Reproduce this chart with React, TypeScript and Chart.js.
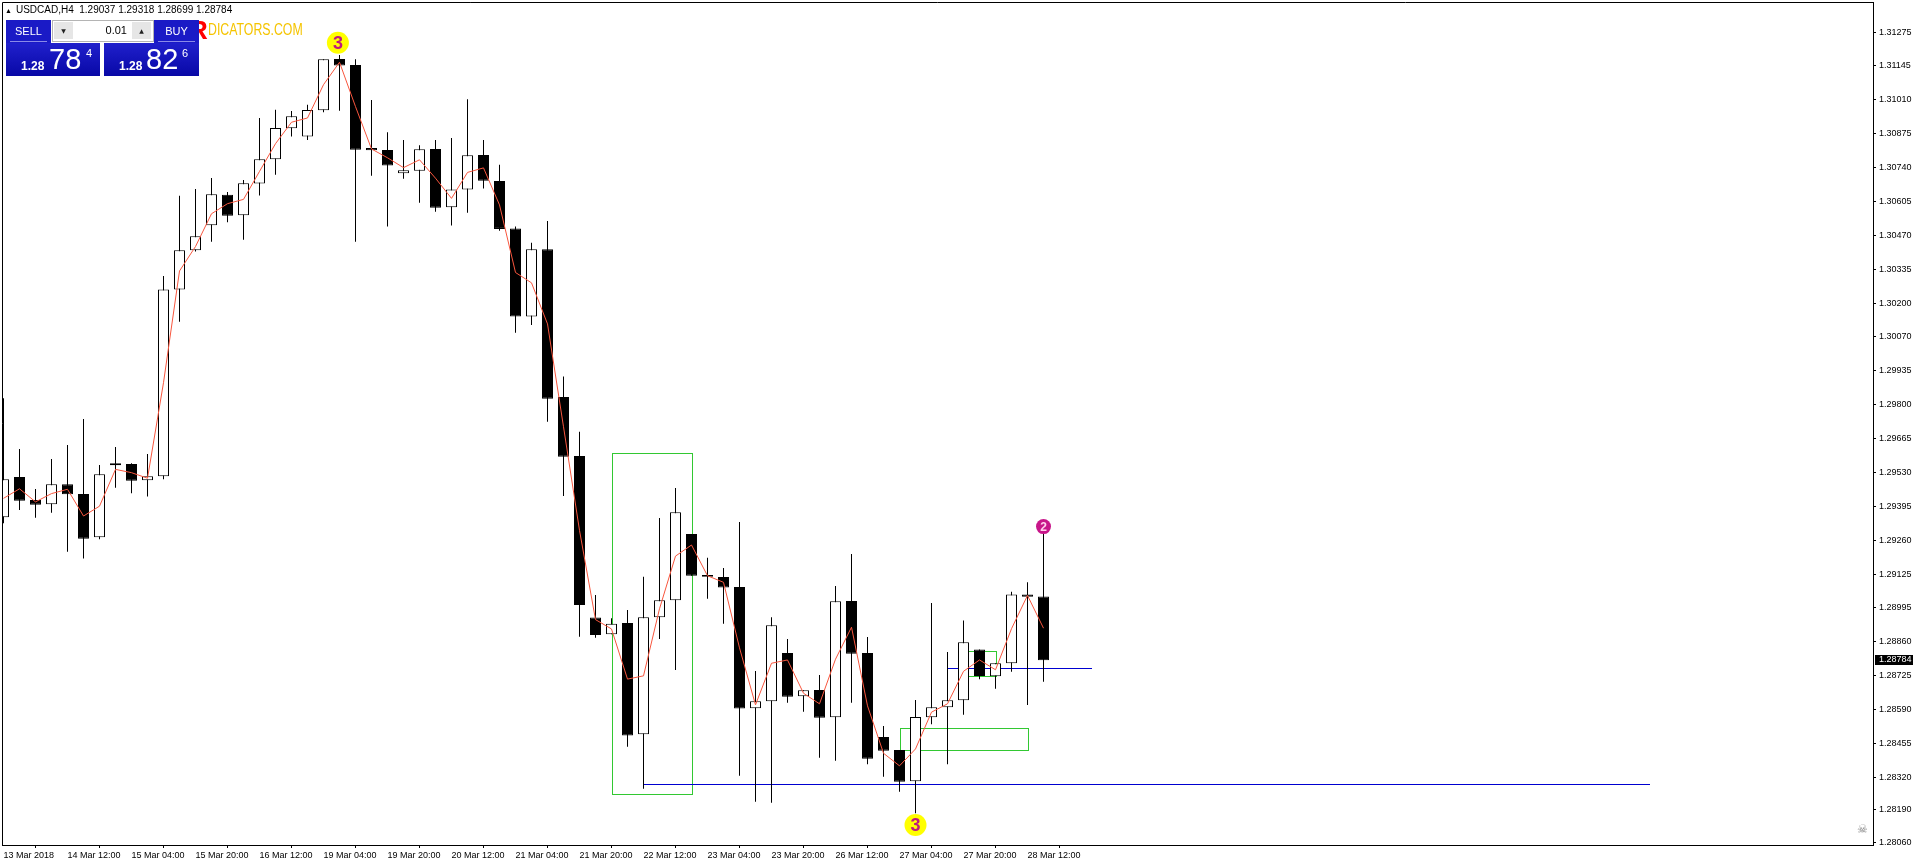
import React, { useEffect, useRef } from 'react';
import { Chart, registerables } from 'chart.js';
Chart.register(...registerables);

// ---- data (USDCAD H4, first bar 13 Mar 2018 20:00) ----
const openP = [1.29351,1.29511,1.29420,1.29403,1.29482,1.29443,1.29272,1.29557,1.29562,1.29498,1.29514,1.30255,1.30410,1.30509,1.30630,1.30549,1.30675,1.30771,1.30894,1.30861,1.30966,1.31169,1.31145,1.30816,1.30808,1.30716,1.30726,1.30812,1.30581,1.30651,1.30788,1.30685,1.30497,1.30147,1.30414,1.29828,1.29594,1.28953,1.28887,1.28932,1.28490,1.28954,1.29022,1.29285,1.29122,1.29114,1.29074,1.28593,1.28621,1.28813,1.28641,1.28666,1.28558,1.29019,1.28813,1.28479,1.28428,1.28304,1.28558,1.28597,1.28625,1.28827,1.28720,1.28772,1.29045,1.29037];
const highP = [1.29823,1.29622,1.29463,1.29582,1.29638,1.29741,1.29558,1.29630,1.29565,1.29602,1.30308,1.30626,1.30653,1.30697,1.30641,1.30689,1.30935,1.30968,1.30963,1.30987,1.31168,1.31185,1.31168,1.31006,1.30878,1.30848,1.30827,1.30848,1.30856,1.31009,1.30848,1.30749,1.30504,1.30440,1.30526,1.29909,1.29690,1.29043,1.28950,1.28983,1.29115,1.29348,1.29467,1.29285,1.29190,1.29150,1.29332,1.28741,1.28954,1.28868,1.28665,1.28725,1.29078,1.29205,1.28876,1.28523,1.28428,1.28626,1.29011,1.28817,1.28942,1.28827,1.28772,1.29056,1.29093,1.29318];
const lowP = [1.29327,1.29380,1.29349,1.29369,1.29214,1.29187,1.29264,1.29468,1.29446,1.29433,1.29502,1.30127,1.30405,1.30444,1.30521,1.30452,1.30627,1.30710,1.30861,1.30848,1.30958,1.30964,1.30444,1.30706,1.30504,1.30694,1.30599,1.30563,1.30508,1.30559,1.30655,1.30488,1.30083,1.30114,1.29730,1.29435,1.28877,1.28873,1.28887,1.28441,1.28274,1.28868,1.28745,1.29119,1.29028,1.28929,1.28326,1.28223,1.28219,1.28615,1.28580,1.28397,1.28385,1.28615,1.28371,1.28322,1.28262,1.28177,1.28530,1.28371,1.28568,1.28708,1.28671,1.28738,1.28606,1.28699];
const closeP = [1.29502,1.29417,1.29401,1.29482,1.29442,1.29266,1.29522,1.29565,1.29496,1.29514,1.30255,1.30410,1.30466,1.30632,1.30547,1.30676,1.30771,1.30895,1.30942,1.30967,1.31168,1.31143,1.30809,1.30807,1.30746,1.30728,1.30811,1.30579,1.30651,1.30787,1.30686,1.30495,1.30147,1.30414,1.29821,1.29591,1.29003,1.28884,1.28929,1.28485,1.28954,1.29022,1.29371,1.29119,1.29115,1.29072,1.28592,1.28621,1.28923,1.28639,1.28665,1.28556,1.29018,1.28810,1.28393,1.28425,1.28302,1.28559,1.28597,1.28625,1.28855,1.28721,1.28772,1.29045,1.29036,1.28784];
const maP = [1.29426,1.29464,1.29412,1.29445,1.29462,1.29356,1.29395,1.29541,1.29528,1.29506,1.29885,1.30328,1.30425,1.30555,1.30595,1.30612,1.30723,1.30833,1.30918,1.30935,1.31067,1.31156,1.30980,1.30812,1.30777,1.30738,1.30769,1.30696,1.30616,1.30719,1.30737,1.30590,1.30322,1.30281,1.30118,1.29710,1.29299,1.28945,1.28908,1.28709,1.28722,1.28988,1.29197,1.29241,1.29119,1.29093,1.28833,1.28607,1.28772,1.28785,1.28653,1.28611,1.28788,1.28915,1.28603,1.28415,1.28365,1.28432,1.28578,1.28611,1.28740,1.28785,1.28746,1.28909,1.29041,1.28911];

const xTickBars = [0,4,8,12,16,20,24,28,32,36,40,44,48,52,56,60,64];
const xTickLabels = ['13 Mar 2018','14 Mar 12:00','15 Mar 04:00','15 Mar 20:00','16 Mar 12:00','19 Mar 04:00','19 Mar 20:00','20 Mar 12:00','21 Mar 04:00','21 Mar 20:00','22 Mar 12:00','23 Mar 04:00','23 Mar 20:00','26 Mar 12:00','27 Mar 04:00','27 Mar 20:00','28 Mar 12:00'];
const yTickValues = [1.31275,1.31145,1.31010,1.30875,1.30740,1.30605,1.30470,1.30335,1.30200,1.30070,1.29935,1.29800,1.29665,1.29530,1.29395,1.29260,1.29125,1.28995,1.28860,1.28725,1.28590,1.28455,1.28320,1.28190,1.28060];

const zoneX1 = [38, 56, 60];
const zoneX2 = [43, 64, 62];
const zoneTop = [1.29605, 1.28514, 1.28821];
const zoneBottom = [1.28252, 1.28427, 1.28720];

const levelPrice = [1.28293, 1.28752];
const levelX1 = [40, 59];
const levelX2 = [102.9, 68];

const markerX = [20.9, 57, 65];
const markerY = [1.31233, 1.28130, 1.29314];
const markerText = ['3', '3', '2'];
const markerFill = ['#ffff00', '#ffff00', '#c8168a'];
const markerInk = ['#c0187f', '#c0187f', '#ffd0ec'];
const markerRadius = [11, 11, 7.5];

const lastPrice = 1.28784;
const headerText = 'USDCAD,H4  1.29037 1.29318 1.28699 1.28784';

export default function App() {
  const ref = useRef<HTMLCanvasElement>(null);

  useEffect(() => {
    const canvas = ref.current;
    if (!canvas) return;
    const idx = openP.map((_, i) => i);
    const bodies = idx.map(i => ({ x: i, y: [openP[i], closeP[i]] }));
    const wicks = idx.map(i => ({ x: i, y: [lowP[i], highP[i]] }));
    const bodyFill = idx.map(i => (closeP[i] >= openP[i] ? '#ffffff' : '#000000'));
    const ma = idx.map(i => ({ x: i, y: maP[i] }));
    const markers = markerX.map((x, i) => ({ x, y: markerY[i] }));

    const overlay = {
      id: 'overlay',
      beforeDatasetsDraw(chart: any) {
        const { ctx, chartArea, scales } = chart;
        const xs = scales.x, ys = scales.y;
        ctx.save();
        ctx.beginPath();
        ctx.rect(chartArea.left, chartArea.top, chartArea.right - chartArea.left, chartArea.bottom - chartArea.top);
        ctx.clip();
        ctx.lineWidth = 1;
        ctx.strokeStyle = '#32c832';
        for (let i = 0; i < zoneX1.length; i++) {
          const x1 = Math.round(xs.getPixelForValue(zoneX1[i])) + 0.5;
          const x2 = Math.round(xs.getPixelForValue(zoneX2[i])) + 0.5;
          const y1 = Math.round(ys.getPixelForValue(zoneTop[i])) + 0.5;
          const y2 = Math.round(ys.getPixelForValue(zoneBottom[i])) + 0.5;
          ctx.strokeRect(x1, y1, x2 - x1, y2 - y1);
        }
        ctx.strokeStyle = '#0000d0';
        for (let i = 0; i < levelPrice.length; i++) {
          const y = Math.round(ys.getPixelForValue(levelPrice[i])) + 0.5;
          ctx.beginPath();
          ctx.moveTo(Math.round(xs.getPixelForValue(levelX1[i])), y);
          ctx.lineTo(Math.round(xs.getPixelForValue(levelX2[i])), y);
          ctx.stroke();
        }
        ctx.restore();
      },
      afterDatasetsDraw(chart: any) {
        const { ctx } = chart;
        const meta = chart.getDatasetMeta(1);
        ctx.save();
        meta.data.forEach((pt: any, i: number) => {
          const big = markerRadius[i] > 9;
          ctx.font = big ? 'bold 18px "Liberation Sans"' : 'bold 12px "Liberation Sans"';
          ctx.fillStyle = markerInk[i];
          ctx.textAlign = 'center';
          ctx.textBaseline = 'middle';
          ctx.fillText(markerText[i], pt.x, pt.y + 1);
        });
        ctx.restore();
      },
      afterDraw(chart: any) {
        const { ctx, chartArea, scales } = chart;
        ctx.save();
        ctx.strokeStyle = '#000000';
        ctx.lineWidth = 1;
        ctx.beginPath();
        ctx.moveTo(chartArea.left + 0.5, chartArea.bottom);
        ctx.lineTo(chartArea.left + 0.5, chartArea.top + 0.5);
        ctx.lineTo(chartArea.right, chartArea.top + 0.5);
        ctx.stroke();
        const py = scales.y.getPixelForValue(lastPrice);
        ctx.fillStyle = '#000000';
        ctx.fillRect(chartArea.right + 2, Math.round(py) - 5, 38, 10);
        ctx.fillStyle = '#ffffff';
        ctx.font = '9px "Liberation Sans"';
        ctx.textAlign = 'left';
        ctx.textBaseline = 'middle';
        ctx.fillText(lastPrice.toFixed(5), chartArea.right + 6, Math.round(py));
        ctx.restore();
      },
    };

    const chart = new Chart(canvas, {
      type: 'bar',
      data: {
        datasets: [
          { type: 'line', data: ma, borderColor: '#f8563e', borderWidth: 1, pointRadius: 0, tension: 0, order: 0 } as any,
          { type: 'line', data: markers, showLine: false, pointRadius: markerRadius, pointBackgroundColor: markerFill, pointBorderWidth: 0, order: 0 } as any,
          { type: 'bar', data: bodies, backgroundColor: bodyFill, borderColor: '#000000', borderWidth: 1, borderSkipped: false, barThickness: 11, grouped: false, inflateAmount: 0, order: 1 } as any,
          { type: 'bar', data: wicks, backgroundColor: '#000000', borderWidth: 0, barThickness: 1, grouped: false, inflateAmount: 0, order: 2 } as any,
        ],
      },
      options: {
        responsive: false,
        animation: false,
        devicePixelRatio: 1,
        layout: { autoPadding: false, padding: { left: 2, top: 2, right: 0, bottom: 0 } },
        plugins: { legend: { display: false }, tooltip: { enabled: false } },
        scales: {
          x: {
            type: 'linear',
            offset: false,
            min: -0.09375,
            max: 116.84375,
            afterBuildTicks: (s: any) => { s.ticks = xTickBars.map(v => ({ value: v })); },
            afterFit: (s: any) => { s.height = 22; s.paddingLeft = 0; s.paddingRight = 0; },
            grid: { drawOnChartArea: false, drawTicks: true, tickLength: 3, color: '#000000' },
            border: { display: true, color: '#000000', width: 1 },
            ticks: {
              autoSkip: false, maxRotation: 0, minRotation: 0, align: 'start', padding: 2,
              color: '#000000', font: { family: 'Liberation Sans', size: 9 },
              callback: (v: any) => { const k = xTickBars.indexOf(Number(v)); return k >= 0 ? xTickLabels[k] : ''; },
            },
          },
          y: {
            type: 'linear',
            position: 'right',
            min: 1.28051,
            max: 1.31395,
            afterBuildTicks: (s: any) => { s.ticks = yTickValues.map(v => ({ value: v })); },
            afterFit: (s: any) => { s.width = 43; s.paddingTop = 0; s.paddingBottom = 0; },
            grid: { drawOnChartArea: false, drawTicks: true, tickLength: 3, color: '#000000' },
            border: { display: true, color: '#000000', width: 1 },
            ticks: {
              autoSkip: false, padding: 3, color: '#000000', font: { family: 'Liberation Sans', size: 9 },
              callback: (v: any) => Number(v).toFixed(5),
            },
          },
        },
      } as any,
      plugins: [overlay],
    });
    return () => chart.destroy();
  }, []);

  const blueTop = '#1a1ac6';
  const blueGrad = 'linear-gradient(#2020cc, #0808a6)';
  const white: React.CSSProperties = { position: 'absolute', color: '#ffffff', lineHeight: 1, whiteSpace: 'pre' };

  return (
    <div style={{ position: 'fixed', left: 0, top: 0, width: 1916, height: 867, background: '#ffffff', overflow: 'hidden' }}>
      <canvas ref={ref} width={1916} height={867} style={{ position: 'absolute', left: 0, top: 0, width: 1916, height: 867 }} />
      <div style={{ position: 'absolute', left: 5, top: 5, font: '10px "Liberation Sans"', color: '#000', whiteSpace: 'pre', lineHeight: 1 }}>
        <span style={{ fontSize: 7, marginRight: 4 }}>▲</span>{headerText}
      </div>
      {/* watermark */}
      <div style={{ position: 'absolute', left: 189, top: 17, font: 'bold 26px "Liberation Sans"', color: '#ff0000', lineHeight: 1 }}>R</div>
      <div style={{ position: 'absolute', left: 208, top: 22, font: '16px "Liberation Sans"', color: '#f5c400', lineHeight: 1, transform: 'scaleX(0.77)', transformOrigin: 'left top', whiteSpace: 'pre' }}>DICATORS.COM</div>
      {/* one-click panel */}
      <div style={{ position: 'absolute', left: 6, top: 20, width: 45, height: 23, background: blueTop }} />
      <div style={{ position: 'absolute', left: 6, top: 43, width: 94, height: 33, background: blueGrad }} />
      <div style={{ position: 'absolute', left: 154, top: 20, width: 45, height: 23, background: blueTop }} />
      <div style={{ position: 'absolute', left: 104, top: 43, width: 95, height: 33, background: blueGrad }} />
      <div style={{ position: 'absolute', left: 10, top: 41, width: 37, height: 1, background: '#8a8ae8' }} />
      <div style={{ position: 'absolute', left: 158, top: 41, width: 37, height: 1, background: '#8a8ae8' }} />
      <div style={{ ...white, left: 6, top: 25, width: 45, textAlign: 'center', font: '11px "Liberation Sans"' }}>SELL</div>
      <div style={{ ...white, left: 154, top: 25, width: 45, textAlign: 'center', font: '11px "Liberation Sans"' }}>BUY</div>
      <div style={{ position: 'absolute', left: 52, top: 20, width: 100, height: 20, background: '#ffffff', border: '1px solid #b4b4b4' }} />
      <div style={{ position: 'absolute', left: 54, top: 22, width: 19, height: 17, background: '#e6e6e6', font: '6px "DejaVu Sans"', color: '#222', textAlign: 'center', lineHeight: '17px' }}>▼</div>
      <div style={{ position: 'absolute', left: 132, top: 22, width: 19, height: 17, background: '#e6e6e6', font: '6px "DejaVu Sans"', color: '#222', textAlign: 'center', lineHeight: '17px' }}>▲</div>
      <div style={{ position: 'absolute', left: 74, top: 25, width: 53, textAlign: 'right', font: '11px "Liberation Sans"', color: '#000', lineHeight: 1 }}>0.01</div>
      <div style={{ ...white, left: 21, top: 59, font: 'bold 12px "Liberation Sans"' }}>1.28</div>
      <div style={{ ...white, left: 49, top: 43, font: '29px "Liberation Sans"' }}>78</div>
      <div style={{ ...white, left: 86, top: 47, font: '11px "Liberation Sans"' }}>4</div>
      <div style={{ ...white, left: 119, top: 59, font: 'bold 12px "Liberation Sans"' }}>1.28</div>
      <div style={{ ...white, left: 146, top: 43, font: '29px "Liberation Sans"' }}>82</div>
      <div style={{ ...white, left: 182, top: 47, font: '11px "Liberation Sans"' }}>6</div>
      <div style={{ position: 'absolute', left: 1857, top: 823, font: '12px "DejaVu Sans"', color: '#8a8a8a', lineHeight: 1 }}>☠</div>
    </div>
  );
}
